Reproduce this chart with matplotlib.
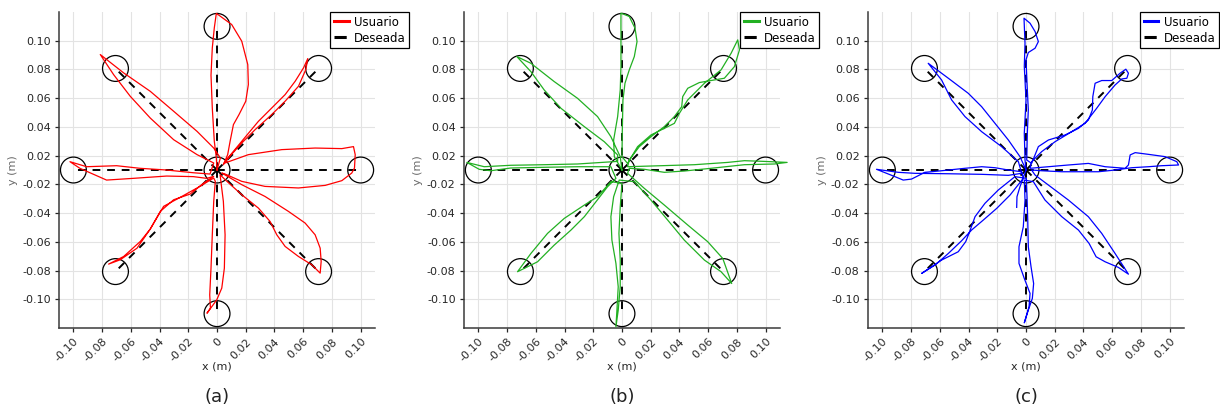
" trayectorias de usuario vs trayectoria deseada (tarea center-out) "
import numpy as np
import matplotlib.pyplot as plt
from matplotlib.patches import Circle

plt.rcParams.update({'font.family': 'DejaVu Sans', 'font.size': 8})

# geometria de la tarea
target_r = 0.10
target_angles = [0, 45, 90, 135, 180, 225, 270, 315]
circle_r = 0.009

xticks = [-0.10, -0.08, -0.06, -0.04, -0.02, 0, 0.02, 0.04, 0.06, 0.08, 0.10]
xticklabels = ["-0.10", "-0.08", "-0.06", "-0.04", "-0.02", "0",
               "0.02", "0.04", "0.06", "0.08", "0.10"]
yticks = [-0.09, -0.07, -0.05, -0.03, -0.01, 0.01, 0.03, 0.05, 0.07, 0.09]
yticklabels = ["-0.10", "-0.08", "-0.06", "-0.04", "-0.02",
               "0.02", "0.04", "0.06", "0.08", "0.10"]

panels = ["(a)", "(b)", "(c)"]
colors = ["#ff0000", "#22b022", "#0000ff"]

# trayectoria del usuario, panel (a)
path_a = [
    (0.0, 0.0),
    (-0.0005, 0.0084), (-0.0019, 0.020), (-0.0033, 0.043), (-0.0042, 0.066),
    (-0.0033, 0.085), (-0.0019, 0.099), (-0.0005, 0.109), (0.001, 0.108),
    (0.0102, 0.1013), (0.0172, 0.0897), (0.0214, 0.0734), (0.0218, 0.0595),
    (0.020, 0.0479), (0.0153, 0.0386), (0.0114, 0.0316), (0.0091, 0.020),
    (0.0074, 0.0107), (0.0044, 0.0037),
    (0.0056, 0.006), (0.0172, 0.020), (0.0288, 0.0339), (0.0381, 0.0432),
    (0.0474, 0.0525), (0.0544, 0.0618), (0.0602, 0.0711), (0.0632, 0.0776),
    (0.0618, 0.0699), (0.0567, 0.0583), (0.0474, 0.0479), (0.0381, 0.0386),
    (0.0265, 0.0281), (0.0172, 0.0188), (0.0079, 0.0084),
    (0.0056, 0.0049), (0.0218, 0.0107), (0.0451, 0.0142), (0.0683, 0.0153),
    (0.0869, 0.0149), (0.095, 0.0163), (0.0962, 0.0107), (0.0957, 0.0014),
    (0.0938, -0.0021), (0.0869, -0.0074), (0.0753, -0.0107), (0.0567, -0.0125),
    (0.0334, -0.0114), (0.0172, -0.0079), (0.0056, -0.0028),
    (0.0033, -0.0021), (0.0172, -0.0102), (0.0334, -0.0184), (0.0497, -0.0288),
    (0.0613, -0.0369), (0.0683, -0.0451), (0.0718, -0.0544), (0.0725, -0.0636),
    (0.0718, -0.0718), (0.066, -0.066), (0.0567, -0.0602), (0.0474, -0.0532),
    (0.0416, -0.0451), (0.0369, -0.0358), (0.0288, -0.0265), (0.0172, -0.0172),
    (0.0056, -0.0067),
    (0.0021, -0.0033), (0.0044, -0.0218), (0.0056, -0.0451), (0.0051, -0.0683),
    (0.0033, -0.0822), (-0.0002, -0.0904), (-0.007, -0.0997), (-0.0046, -0.0962),
    (-0.0051, -0.0869), (-0.0042, -0.0683), (-0.0033, -0.0451),
    (-0.0023, -0.0218), (-0.0012, -0.0079),
    (-0.0023, -0.0056), (-0.0139, -0.0125), (-0.0256, -0.019), (-0.0372, -0.0253),
    (-0.0465, -0.0411), (-0.0557, -0.0544), (-0.0674, -0.0625), (-0.0755, -0.0655),
    (-0.065, -0.0602), (-0.0534, -0.0497), (-0.0465, -0.0411), (-0.0395, -0.0288),
    (-0.0302, -0.0207), (-0.0186, -0.0167), (-0.0093, -0.0091), (-0.0023, -0.0044),
    (-0.0072, -0.0058), (-0.0165, -0.0046), (-0.0351, -0.0042), (-0.0583, -0.0058),
    (-0.0769, -0.007), (-0.0955, 0.0012), (-0.1024, 0.0058), (-0.0908, 0.0023),
    (-0.0699, 0.003), (-0.0537, 0.0012), (-0.0351, 0.0), (-0.0165, -0.0019),
    (-0.0049, -0.0028),
    (-0.0023, 0.0049), (-0.0139, 0.0107), (-0.0302, 0.0211), (-0.0465, 0.0362),
    (-0.0604, 0.0513), (-0.072, 0.0664), (-0.0813, 0.0804), (-0.065, 0.0676),
    (-0.0465, 0.0548), (-0.0302, 0.0409), (-0.0139, 0.0269), (-0.0023, 0.0153),
    (0.0023, 0.0084), (0.0, 0.0),
]

# trayectoria del usuario, panel (b)
path_b = [
    (0.0, 0.0),
    (-0.0053, 0.0093), (-0.0058, 0.0209), (-0.003, 0.0372), (-0.0012, 0.0557),
    (-0.0007, 0.072), (-0.0007, 0.0906), (-0.0007, 0.1092), (0.0051, 0.1069),
    (0.0091, 0.0987), (0.0105, 0.0894), (0.0086, 0.079), (0.0051, 0.0697),
    (0.0021, 0.0604), (0.0007, 0.0488), (0.0002, 0.0256), (0.0, 0.0093),
    (0.0039, 0.0046), (0.0109, 0.0163), (0.0202, 0.0244), (0.0295, 0.029),
    (0.0365, 0.0325), (0.040, 0.0395), (0.0458, 0.0488), (0.0574, 0.0604),
    (0.069, 0.0697), (0.076, 0.0813), (0.0806, 0.0906), (0.0818, 0.0836),
    (0.0783, 0.072), (0.0713, 0.0639), (0.062, 0.0623), (0.0539, 0.0609),
    (0.0458, 0.0569), (0.0423, 0.0511), (0.0416, 0.0441), (0.0365, 0.0372),
    (0.0295, 0.0302), (0.0202, 0.0232), (0.0121, 0.0163), (0.0051, 0.007),
    (0.0039, 0.0023), (0.0272, 0.003), (0.0504, 0.0037), (0.0736, 0.0053),
    (0.0853, 0.0065), (0.0992, 0.006), (0.115, 0.0053), (0.1062, 0.0042),
    (0.0853, 0.0037), (0.062, 0.0012), (0.0434, -0.0007), (0.0295, -0.0016),
    (0.0156, 0.0005), (0.0051, 0.0012),
    (0.0039, -0.0023), (0.0156, -0.0128), (0.0295, -0.0244), (0.0458, -0.0383),
    (0.0597, -0.0499), (0.0702, -0.0616), (0.0764, -0.079), (0.069, -0.0708),
    (0.0574, -0.0627), (0.0434, -0.0488), (0.0318, -0.0348), (0.0202, -0.0209),
    (0.0086, -0.0081),
    (-0.0019, -0.007), (-0.0058, -0.0186), (-0.0077, -0.0325), (-0.007, -0.0488),
    (-0.0042, -0.065), (-0.0026, -0.0813), (-0.0035, -0.0976), (-0.0042, -0.1092),
    (-0.0026, -0.0976), (-0.0012, -0.0813), (-0.0012, -0.0627), (-0.0021, -0.0441),
    (-0.0012, -0.0256), (0.0, -0.0093),
    (-0.0077, -0.0081), (-0.017, -0.0186), (-0.0262, -0.0244), (-0.0402, -0.0337),
    (-0.0518, -0.0441), (-0.0634, -0.0581), (-0.0727, -0.0708), (-0.0588, -0.0639),
    (-0.0472, -0.0523), (-0.0355, -0.0418), (-0.0262, -0.0325), (-0.0181, -0.0221),
    (-0.010, -0.0116), (-0.0042, -0.0058),
    (-0.0077, 0.0023), (-0.0309, 0.0023), (-0.0541, 0.0019), (-0.0774, 0.0014),
    (-0.0913, -0.0005), (-0.0994, 0.0005), (-0.108, 0.0053), (-0.0959, 0.0023),
    (-0.0774, 0.0033), (-0.0541, 0.0037), (-0.0309, 0.0042), (-0.017, 0.0051),
    (-0.003, 0.006),
    (-0.003, 0.0105), (-0.0123, 0.0197), (-0.0262, 0.0302), (-0.0425, 0.043),
    (-0.0541, 0.0557), (-0.0634, 0.0685), (-0.0732, 0.079), (-0.0634, 0.0743),
    (-0.0472, 0.0616), (-0.0309, 0.0499), (-0.017, 0.0372), (-0.0077, 0.0232),
    (-0.0012, 0.0093), (0.0, 0.0),
]

# trayectoria del usuario, panel (c)
path_c = [
    (-0.0065, -0.026), (-0.0063, -0.0186), (-0.0042, -0.0116), (-0.0012, -0.0035),
    (0.0, 0.0),
    (-0.0007, 0.007), (-0.0012, 0.0256), (0.0, 0.0488), (-0.0012, 0.072),
    (-0.0007, 0.0883), (-0.0014, 0.1057), (0.0028, 0.1022), (0.0063, 0.0964),
    (0.0086, 0.0894), (0.0063, 0.0848), (0.0016, 0.0818), (0.0, 0.0767),
    (0.0007, 0.0604), (0.0016, 0.0418), (0.0009, 0.0256), (0.0005, 0.007),
    (0.0039, 0.0046), (0.0086, 0.0163), (0.0156, 0.0209), (0.0272, 0.0244),
    (0.0365, 0.029), (0.0434, 0.0348), (0.0462, 0.0418), (0.0465, 0.0511),
    (0.0481, 0.0604), (0.0527, 0.0623), (0.0597, 0.0623), (0.0655, 0.0674),
    (0.0695, 0.0702), (0.0713, 0.0674), (0.0702, 0.0639), (0.0667, 0.0634),
    (0.062, 0.0592), (0.0551, 0.0511), (0.0492, 0.043), (0.0411, 0.0325),
    (0.0318, 0.0267), (0.0202, 0.0197), (0.0109, 0.0128), (0.0039, 0.0058),
    (0.0028, 0.0012), (0.0156, 0.0023), (0.0295, 0.0035), (0.0434, 0.0046),
    (0.0551, 0.0023), (0.069, 0.0012), (0.0713, 0.0035), (0.0725, 0.0105),
    (0.076, 0.0121), (0.0853, 0.0109), (0.0969, 0.0093), (0.105, 0.0058),
    (0.1062, 0.0035), (0.0945, 0.003), (0.0853, 0.0023), (0.0736, 0.0016),
    (0.062, 0.0), (0.0504, -0.0012), (0.0388, -0.0012), (0.0249, -0.0012),
    (0.0109, -0.0005), (0.0039, 0.0),
    (0.0063, -0.0035), (0.0156, -0.0105), (0.0295, -0.0209), (0.0434, -0.0325),
    (0.0527, -0.0441), (0.062, -0.0581), (0.0702, -0.0708), (0.0713, -0.0725),
    (0.0643, -0.0678), (0.0551, -0.0639), (0.0488, -0.0604), (0.0439, -0.0511),
    (0.0365, -0.0418), (0.0249, -0.0325), (0.0132, -0.0209), (0.0051, -0.0081),
    (-0.0012, -0.007), (-0.0007, -0.0209), (-0.0019, -0.0395), (-0.0049, -0.0534),
    (-0.0049, -0.065), (-0.0012, -0.0755), (0.0028, -0.0859), (0.0021, -0.0952),
    (-0.0012, -0.1064), (0.0012, -0.0987), (0.0044, -0.0894), (0.0053, -0.079),
    (0.0035, -0.0674), (0.0016, -0.0534), (0.0012, -0.0348), (0.0007, -0.0186),
    (0.0002, -0.0058),
    (-0.0077, -0.0046), (-0.0193, -0.0139), (-0.0286, -0.0232), (-0.0355, -0.0325),
    (-0.0397, -0.0441), (-0.042, -0.0499), (-0.0472, -0.0569), (-0.0588, -0.0627),
    (-0.0727, -0.072), (-0.0634, -0.0662), (-0.0541, -0.0581), (-0.0448, -0.0492),
    (-0.0379, -0.0418), (-0.0297, -0.0348), (-0.0204, -0.0267), (-0.0111, -0.0174),
    (-0.0019, -0.0058),
    (-0.003, -0.0012), (-0.0123, 0.0), (-0.0216, 0.0016), (-0.0309, 0.0023),
    (-0.0425, 0.0012), (-0.0588, -0.0005), (-0.0704, -0.0016), (-0.0797, -0.0063),
    (-0.0855, -0.007), (-0.0913, -0.0046), (-0.1041, 0.0005), (-0.089, -0.0016),
    (-0.0774, -0.0023), (-0.0541, -0.0026), (-0.0309, -0.003), (-0.0123, -0.0037),
    (-0.003, -0.0023),
    (-0.0053, 0.0058), (-0.017, 0.0163), (-0.0309, 0.0267), (-0.0425, 0.0372),
    (-0.0518, 0.0488), (-0.0588, 0.0627), (-0.0681, 0.0743), (-0.0541, 0.0639),
    (-0.0402, 0.0534), (-0.0309, 0.0441), (-0.0216, 0.0325), (-0.0123, 0.0209),
    (-0.0042, 0.0093), (0.0, 0.0),
]

paths = [path_a, path_b, path_c]
lefts = [0.0484, 0.3803, 0.7115]
leg_right = [1.108, 1.124, 1.111]

fig = plt.figure(figsize=(12.2, 4.16), dpi=100)

for i in range(3):
    ax = fig.add_axes([lefts[i], 0.2115, 0.259, 0.7596])
    ax.set_xlim(-0.11, 0.11)
    ax.set_ylim(-0.11, 0.11)

    ang = np.deg2rad(target_angles)
    tx = target_r*np.cos(ang)
    ty = target_r*np.sin(ang)

    # trayectorias deseadas (centro -> objetivo)
    for k in range(len(tx)):
        ax.plot([0, tx[k]], [0, ty[k]], color="k", lw=1.4,
                linestyle=(0, (4, 3.5)), zorder=3,
                label="Deseada" if k == 0 else None)

    # circulos de objetivo y centro
    for cx, cy in [(0, 0)] + list(zip(tx, ty)):
        ax.add_patch(Circle((cx, cy), circle_r, fill=False, ec="k",
                            lw=0.9, zorder=4))

    p = np.array(paths[i])
    ax.plot(p[:, 0], p[:, 1], color=colors[i], lw=0.9, zorder=5,
            clip_on=False, label="Usuario")

    ax.set_xticks(xticks)
    ax.set_xticklabels(xticklabels, rotation=45, ha="right", va="top",
                       rotation_mode="anchor")
    ax.set_yticks(yticks)
    ax.set_yticklabels(yticklabels)
    ax.tick_params(direction="out", length=3, width=0.9, labelsize=8,
                   colors="#262626", pad=3)
    ax.grid(True, color="#e3e3e3", lw=0.8)
    ax.set_axisbelow(True)
    for s in ["top", "right"]:
        ax.spines[s].set_visible(False)
    for s in ["left", "bottom"]:
        ax.spines[s].set_color("#3a3a3a")
        ax.spines[s].set_linewidth(1.1)

    ax.set_xlabel("x (m)", fontsize=8, color="#262626")
    ax.xaxis.set_label_coords(0.5, -0.105)
    ax.set_ylabel("y (m)", fontsize=8, color="#6a6a6a")
    ax.yaxis.set_label_coords(-0.13, 0.5)

    h, l = ax.get_legend_handles_labels()
    leg = ax.legend(h[::-1], l[::-1], loc="upper right",
                    bbox_to_anchor=(leg_right[i], 1.0), borderaxespad=0,
                    fontsize=8.5, fancybox=False, edgecolor="k",
                    framealpha=1, handlelength=1.25, borderpad=0.3,
                    labelspacing=0.25, handletextpad=0.45)
    leg.get_frame().set_linewidth(0.9)
    for ln in leg.get_lines():
        ln.set_linewidth(2.2)

    fig.text(lefts[i] + (217 - 59)/1220, 0.045, panels[i],
             fontsize=13, ha="center", va="center", color="#222222")

fig.savefig("out.png", dpi=100)
